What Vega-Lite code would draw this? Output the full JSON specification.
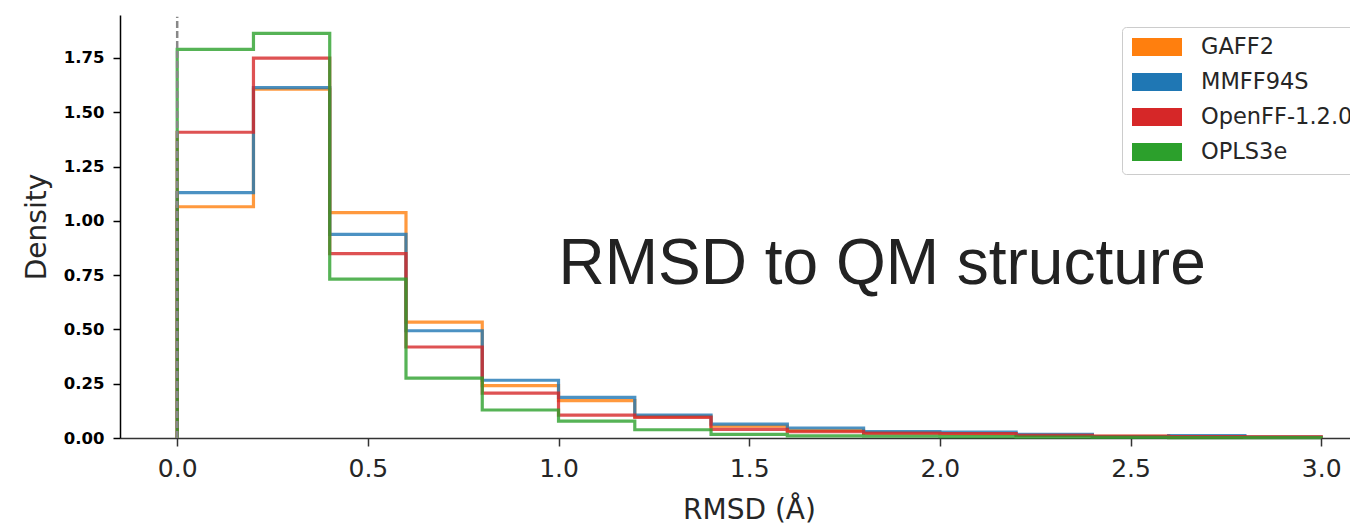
{
  "$schema": "https://vega.github.io/schema/vega-lite/v6.json",
  "width": 1230,
  "height": 423,
  "autosize": {"type": "none"},
  "padding": {"left": 120, "top": 15, "right": 0, "bottom": 88},
  "background": "white",
  "config": {
    "view": {"stroke": null},
    "axis": {"grid": false, "labelFont": "DejaVu Sans", "titleFont": "DejaVu Sans"}
  },
  "layer": [
    {
      "data": {
        "values": [
          {"ff": "GAFF2", "i": 0, "x": 0, "d": 0},
          {"ff": "GAFF2", "i": 1, "x": 0, "d": 1.065},
          {"ff": "GAFF2", "i": 2, "x": 0.2, "d": 1.606},
          {"ff": "GAFF2", "i": 3, "x": 0.4, "d": 1.038},
          {"ff": "GAFF2", "i": 4, "x": 0.6, "d": 0.534},
          {"ff": "GAFF2", "i": 5, "x": 0.8, "d": 0.241},
          {"ff": "GAFF2", "i": 6, "x": 1.0, "d": 0.172},
          {"ff": "GAFF2", "i": 7, "x": 1.2, "d": 0.100},
          {"ff": "GAFF2", "i": 8, "x": 1.4, "d": 0.055},
          {"ff": "GAFF2", "i": 9, "x": 1.6, "d": 0.035},
          {"ff": "GAFF2", "i": 10, "x": 1.8, "d": 0.025},
          {"ff": "GAFF2", "i": 11, "x": 2.0, "d": 0.020},
          {"ff": "GAFF2", "i": 12, "x": 2.2, "d": 0.012},
          {"ff": "GAFF2", "i": 13, "x": 2.4, "d": 0.008},
          {"ff": "GAFF2", "i": 14, "x": 2.6, "d": 0.006},
          {"ff": "GAFF2", "i": 15, "x": 2.8, "d": 0.004},
          {"ff": "GAFF2", "i": 16, "x": 3.0, "d": 0},
          {"ff": "MMFF94S", "i": 0, "x": 0, "d": 0},
          {"ff": "MMFF94S", "i": 1, "x": 0, "d": 1.130},
          {"ff": "MMFF94S", "i": 2, "x": 0.2, "d": 1.614},
          {"ff": "MMFF94S", "i": 3, "x": 0.4, "d": 0.938},
          {"ff": "MMFF94S", "i": 4, "x": 0.6, "d": 0.494},
          {"ff": "MMFF94S", "i": 5, "x": 0.8, "d": 0.266},
          {"ff": "MMFF94S", "i": 6, "x": 1.0, "d": 0.187},
          {"ff": "MMFF94S", "i": 7, "x": 1.2, "d": 0.106},
          {"ff": "MMFF94S", "i": 8, "x": 1.4, "d": 0.064},
          {"ff": "MMFF94S", "i": 9, "x": 1.6, "d": 0.046},
          {"ff": "MMFF94S", "i": 10, "x": 1.8, "d": 0.029},
          {"ff": "MMFF94S", "i": 11, "x": 2.0, "d": 0.027},
          {"ff": "MMFF94S", "i": 12, "x": 2.2, "d": 0.017},
          {"ff": "MMFF94S", "i": 13, "x": 2.4, "d": 0.007},
          {"ff": "MMFF94S", "i": 14, "x": 2.6, "d": 0.011},
          {"ff": "MMFF94S", "i": 15, "x": 2.8, "d": 0.004},
          {"ff": "MMFF94S", "i": 16, "x": 3.0, "d": 0},
          {"ff": "OpenFF-1.2.0", "i": 0, "x": 0, "d": 0},
          {"ff": "OpenFF-1.2.0", "i": 1, "x": 0, "d": 1.408},
          {"ff": "OpenFF-1.2.0", "i": 2, "x": 0.2, "d": 1.749},
          {"ff": "OpenFF-1.2.0", "i": 3, "x": 0.4, "d": 0.849},
          {"ff": "OpenFF-1.2.0", "i": 4, "x": 0.6, "d": 0.419},
          {"ff": "OpenFF-1.2.0", "i": 5, "x": 0.8, "d": 0.207},
          {"ff": "OpenFF-1.2.0", "i": 6, "x": 1.0, "d": 0.105},
          {"ff": "OpenFF-1.2.0", "i": 7, "x": 1.2, "d": 0.095},
          {"ff": "OpenFF-1.2.0", "i": 8, "x": 1.4, "d": 0.040},
          {"ff": "OpenFF-1.2.0", "i": 9, "x": 1.6, "d": 0.029},
          {"ff": "OpenFF-1.2.0", "i": 10, "x": 1.8, "d": 0.021},
          {"ff": "OpenFF-1.2.0", "i": 11, "x": 2.0, "d": 0.020},
          {"ff": "OpenFF-1.2.0", "i": 12, "x": 2.2, "d": 0.012},
          {"ff": "OpenFF-1.2.0", "i": 13, "x": 2.4, "d": 0.009},
          {"ff": "OpenFF-1.2.0", "i": 14, "x": 2.6, "d": 0.006},
          {"ff": "OpenFF-1.2.0", "i": 15, "x": 2.8, "d": 0.005},
          {"ff": "OpenFF-1.2.0", "i": 16, "x": 3.0, "d": 0},
          {"ff": "OPLS3e", "i": 0, "x": 0, "d": 0},
          {"ff": "OPLS3e", "i": 1, "x": 0, "d": 1.790},
          {"ff": "OPLS3e", "i": 2, "x": 0.2, "d": 1.863},
          {"ff": "OPLS3e", "i": 3, "x": 0.4, "d": 0.732},
          {"ff": "OPLS3e", "i": 4, "x": 0.6, "d": 0.276},
          {"ff": "OPLS3e", "i": 5, "x": 0.8, "d": 0.129},
          {"ff": "OPLS3e", "i": 6, "x": 1.0, "d": 0.078},
          {"ff": "OPLS3e", "i": 7, "x": 1.2, "d": 0.038},
          {"ff": "OPLS3e", "i": 8, "x": 1.4, "d": 0.017},
          {"ff": "OPLS3e", "i": 9, "x": 1.6, "d": 0.010},
          {"ff": "OPLS3e", "i": 10, "x": 1.8, "d": 0.008},
          {"ff": "OPLS3e", "i": 11, "x": 2.0, "d": 0.006},
          {"ff": "OPLS3e", "i": 12, "x": 2.2, "d": 0.004},
          {"ff": "OPLS3e", "i": 13, "x": 2.4, "d": 0.003},
          {"ff": "OPLS3e", "i": 14, "x": 2.6, "d": 0.002},
          {"ff": "OPLS3e", "i": 15, "x": 2.8, "d": 0.002},
          {"ff": "OPLS3e", "i": 16, "x": 3.0, "d": 0}
        ]
      },
      "mark": {"type": "line", "interpolate": "step-after", "strokeWidth": 3.2, "opacity": 0.8},
      "encoding": {
        "x": {
          "field": "x", "type": "quantitative",
          "scale": {"domain": [-0.15, 3.0756], "nice": false, "zero": false},
          "axis": {
            "values": [0, 0.5, 1, 1.5, 2, 2.5, 3], "format": ".1f",
            "labelFontSize": 25, "labelColor": "#262626",
            "tickColor": "#333333", "domainColor": "#333333",
            "tickSize": 8, "tickWidth": 1.5, "domainWidth": 1.5, "labelPadding": 10,
            "title": "RMSD (Å)", "titleFontSize": 28, "titleFontWeight": "normal",
            "titleColor": "#262626", "titleX": 629, "titleY": 80, "titleBaseline": "alphabetic", "titleAlign": "center"
          }
        },
        "y": {
          "field": "d", "type": "quantitative",
          "scale": {"domain": [0, 1.948], "nice": false},
          "axis": {
            "values": [0, 0.25, 0.5, 0.75, 1, 1.25, 1.5, 1.75], "format": ".2f",
            "labelFontSize": 16.5, "labelFontWeight": "bold", "labelColor": "#000000",
            "tickColor": "#000000", "domainColor": "#000000",
            "tickSize": 7, "tickWidth": 1.5, "domainWidth": 1.5, "labelPadding": 9,
            "title": "Density", "titleFontSize": 28, "titleFontWeight": "normal",
            "titleColor": "#262626", "titlePadding": 12
          }
        },
        "color": {
          "field": "ff", "type": "nominal",
          "scale": {"domain": ["GAFF2", "MMFF94S", "OpenFF-1.2.0", "OPLS3e"], "range": ["#ff7f0e", "#1f77b4", "#d62728", "#2ca02c"]},
          "legend": {
            "title": null, "orient": "none", "legendX": 1002, "legendY": 12,
            "symbolType": "M-1,-0.36H1V0.36H-1Z", "symbolSize": 2500,
            "symbolStrokeWidth": 0, "symbolOpacity": 1, "clipHeight": 20,
            "labelFont": "DejaVu Sans", "labelFontSize": 22.5, "labelColor": "#262626",
            "labelOffset": 19, "rowPadding": 12, "padding": 10,
            "strokeColor": "#cccccc", "cornerRadius": 4, "fillColor": "white", "labelLimit": 400,
            "encode": {"symbols": {"update": {"fill": {"scale": "color", "field": "value"}, "opacity": {"value": 1}}}}
          }
        },
        "order": {"field": "i", "type": "quantitative"}
      }
    },
    {
      "data": {"values": [{"ref": 0}]},
      "mark": {"type": "rule", "color": "#888888", "strokeDash": [7, 3], "strokeWidth": 2.5, "opacity": 1},
      "encoding": {"x": {"field": "ref", "type": "quantitative"}, "y": {"datum": 0}, "y2": {"datum": 1.94}}
    },
    {
      "data": {"values": [{"label": "RMSD to QM structure"}]},
      "mark": {"type": "text", "font": "Liberation Sans", "fontSize": 64, "align": "left", "baseline": "alphabetic", "color": "#222222"},
      "encoding": {"text": {"field": "label"}, "x": {"datum": 1.0}, "y": {"datum": 0.709}}
    }
  ]
}
